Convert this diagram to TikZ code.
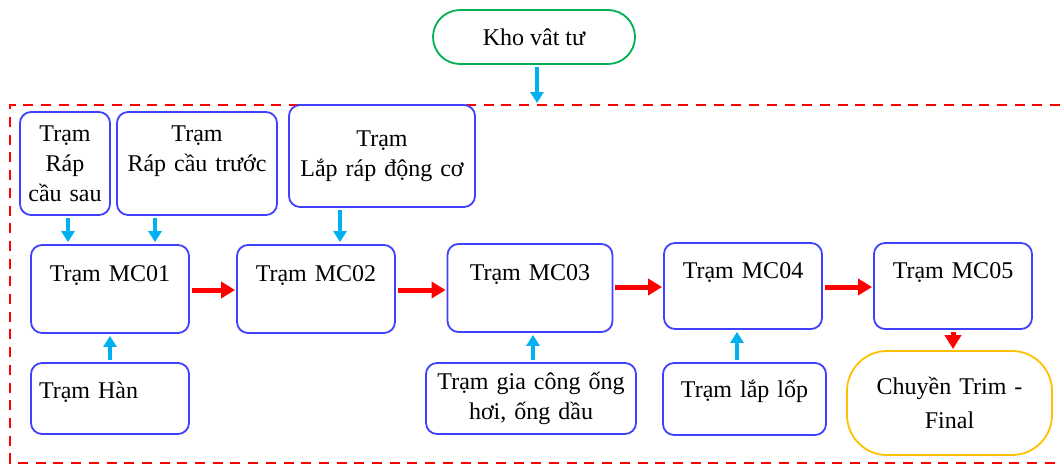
\documentclass[tikz,border=0pt]{standalone}
\usepackage{fontspec}
\setmainfont{Liberation Serif}
\usetikzlibrary{arrows.meta}
\definecolor{stblue}{RGB}{64,64,255}
\definecolor{feedblue}{RGB}{0,176,240}
\definecolor{khogreen}{RGB}{0,176,80}
\definecolor{trimyellow}{RGB}{255,192,0}
\begin{document}
\begin{tikzpicture}[x=1pt,y=-1pt,
    tram/.style={draw=stblue, line width=1.8pt, rounded corners=11pt, inner sep=0pt, align=center, font=\fontsize{24}{30}\selectfont},
    mc/.style={tram, text width=150pt, minimum width=158pt, minimum height=88pt},
    feed/.style={-{Triangle[length=11pt,width=13pt]}, line width=4pt, feedblue, shorten <=2pt, shorten >=2pt},
    flow/.style={-{Triangle[length=14pt,width=16pt]}, line width=5pt, red, shorten <=2pt, shorten >=1pt}]
\useasboundingbox (0,0) rectangle (1060,464);
\draw[red, line width=2pt, dash pattern=on 10pt off 7.7pt] (1060,105)--(10,105)--(10,463)--(1060,463);
\node[tram, draw=khogreen, rounded corners=27pt, minimum width=202pt, minimum height=54pt] (kho) at (534,37) {Kho vât tư};
\node[tram, text width=86pt, minimum width=90pt, minimum height=103pt] (cs) at (65,163.5) {Trạm\\Ráp\\cầu sau};
\node[tram, text width=152pt, minimum width=160pt, minimum height=103pt] (ct) at (197,163.5) {Trạm\\Ráp cầu trước\\~};
\node[tram, text width=178pt, minimum width=186pt, minimum height=102pt] (dc) at (382,156) {Trạm\\Lắp ráp động cơ};
\node[mc] (mc1) at (110,289) {Trạm MC01\\~};
\node[mc] (mc2) at (316,289) {Trạm MC02\\~};
\node[mc, minimum width=165pt] (mc3) at (530,288) {Trạm MC03\\~};
\node[mc, minimum height=86pt] (mc4) at (743,286) {Trạm MC04\\~};
\node[mc, minimum height=86pt] (mc5) at (953,286) {Trạm MC05\\~};
\node[tram, text width=142pt, align=left, text height=17pt, text depth=18pt, minimum width=158pt, minimum height=71pt] (han) at (110,398.5) {Trạm Hàn};
\node[tram, text width=202pt, minimum width=210pt, minimum height=71pt] (gc) at (531,398.5) {Trạm gia công ống\\hơi, ống dầu};
\node[tram, text width=155pt, text height=17pt, text depth=21pt, minimum width=163pt, minimum height=72pt] (lop) at (744.5,399) {Trạm lắp lốp};
\node[tram, draw=trimyellow, rounded corners=40pt, text width=190pt, minimum width=205pt, minimum height=104pt, font=\fontsize{24}{34}\selectfont] (trim) at (949.5,403) {Chuyền Trim -\\Final};
\coordinate (zone) at (537,105);
\draw[feed] (kho.south -| zone) -- (zone);
\draw[feed] (cs.south -| 68,0) -- (mc1.north -| 68,0);
\draw[feed] (ct.south -| 155,0) -- (mc1.north -| 155,0);
\draw[feed] (dc.south -| 340,0) -- (mc2.north -| 340,0);
\draw[feed] (han) -- (mc1);
\draw[feed] (gc.north -| 533,0) -- (mc3.south -| 533,0);
\draw[feed] (lop.north -| 737,0) -- (mc4.south -| 737,0);
\draw[flow] (mc1.east |- 0,290) -- (mc2.west |- 0,290);
\draw[flow] (mc2.east |- 0,290) -- (mc3.west |- 0,290);
\draw[flow] (mc3.east |- 0,287) -- (mc4.west |- 0,287);
\draw[flow] (mc4.east |- 0,287) -- (mc5.west |- 0,287);
\draw[flow] (mc5.south) -- (mc5.south |- trim.north);
\end{tikzpicture}
\end{document}
